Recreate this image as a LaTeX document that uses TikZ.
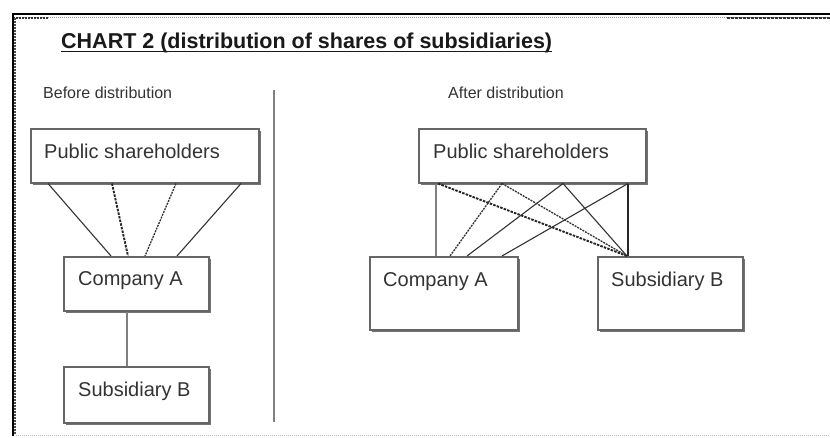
\documentclass[tikz,border=0pt]{standalone}
\usepackage{fontspec}
\setmainfont{Liberation Sans}
\usetikzlibrary{calc,shadows}
\begin{document}
\begin{tikzpicture}[x=1pt,y=-1pt,
  boxnode/.style={draw=black!60, line width=1.5pt, fill=white, rectangle, inner sep=0pt, anchor=north west,
    drop shadow={shadow xshift=2pt, shadow yshift=-2pt, fill=black!55, opacity=1}},
  boxtext/.style={anchor=base west, inner sep=0pt, font=\fontsize{20}{24}\selectfont, text=black!80},
  headtext/.style={anchor=base west, inner sep=0pt, font=\fontsize{16}{19}\selectfont, text=black!80},
  titletext/.style={anchor=base west, inner sep=0pt, font=\fontsize{21.5}{25}\selectfont\bfseries, text=black!90},
  thinlink/.style={draw=black!80, line width=1.1pt},
  dashlink/.style={draw=black!85, line width=1.9pt, dash pattern=on 2.5pt off 1.2pt},
  finedash/.style={draw=black!80, line width=1.3pt, dash pattern=on 2pt off 1pt},
  graybar/.style={draw=black!50, line width=2pt},
  darkbar/.style={draw=black!85, line width=2.2pt},
]
\useasboundingbox (0,0) rectangle (830,437);
\fill[white] (0,0) rectangle (830,437);

% frame
\draw[black, line width=2.2pt] (12,14) -- (830,14);
\draw[black!40, line width=0.8pt, dash pattern=on 1pt off 1pt] (16,17.5) -- (830,17.5);
\draw[black!80, line width=2pt, dash pattern=on 2pt off 1pt] (13,17.5) -- (48,17.5);
\draw[black!80, line width=2pt, dash pattern=on 3pt off 1pt] (727,17.5) -- (830,17.5);
\draw[black, line width=2pt] (12.5,13) -- (12.5,436);
\draw[black!70, line width=2.5pt, dash pattern=on 2pt off 1pt] (15.2,18) -- (15.2,434);
\draw[black!25, line width=0.8pt, dash pattern=on 1pt off 1pt] (16,435.5) -- (830,435.5);

% title
\node[titletext] (title) at (61,48) {CHART 2 (distribution of shares of subsidiaries)};
\draw[black!90, line width=1.8pt] ($(title.base west)+(0,3.5)$) -- ($(title.base east)+(0,3.5)$);

% headings
\node[headtext] (before) at (43,98) {Before distribution};
\node[headtext] (after) at (448,98) {After distribution};

% separator
\coordinate (septop) at (274,90);
\coordinate (sepbot) at (274,422);
\draw[graybar] (septop) -- (sepbot);

% left boxes
\node[boxnode, minimum width=228pt, minimum height=54pt] (ps1) at (30,128) {};
\node[boxnode, minimum width=145pt, minimum height=54pt] (ca1) at (63,256) {};
\node[boxnode, minimum width=145pt, minimum height=56pt] (sb1) at (63,366) {};
\node[boxtext] (ps1t) at ($(ps1.north west)+(14,30)$) {Public shareholders};
\node[boxtext] (ca1t) at ($(ca1.north west)+(15,29)$) {Company A};
\node[boxtext] (sb1t) at ($(sb1.north west)+(15,30)$) {Subsidiary B};

% left connectors
\draw[thinlink] ($(ps1.south west)+(18,0)$) -- ($(ca1.north west)+(48,0)$);
\draw[dashlink] ($(ps1.south west)+(82,0)$) -- ($(ca1.north west)+(65,0)$);
\draw[finedash] ($(ps1.south west)+(146,0)$) -- ($(ca1.north west)+(82,0)$);
\draw[thinlink] ($(ps1.south west)+(211,0)$) -- ($(ca1.north west)+(114,0)$);
\draw[graybar] ($(ca1.south west)+(64,0)$) -- ($(sb1.north west)+(64,0)$);

% right boxes
\node[boxnode, minimum width=227pt, minimum height=54pt] (ps2) at (418,128) {};
\node[boxnode, minimum width=148pt, minimum height=73pt] (ca2) at (369,256) {};
\node[boxnode, minimum width=145pt, minimum height=73pt] (sb2) at (597,256) {};
\node[boxtext] (ps2t) at ($(ps2.north west)+(15,30)$) {Public shareholders};
\node[boxtext] (ca2t) at ($(ca2.north west)+(14,30)$) {Company A};
\node[boxtext] (sb2t) at ($(sb2.north west)+(14,30)$) {Subsidiary B};

% right connectors
\draw[graybar] ($(ps2.south west)+(18,0)$) -- ($(ca2.north west)+(67,0)$);
\draw[dashlink] ($(ps2.south west)+(20,0)$) -- ($(sb2.north west)+(30,0)$);
\draw[finedash] ($(ps2.south west)+(84,0)$) -- ($(ca2.north west)+(81,0)$);
\draw[finedash] ($(ps2.south west)+(84,0)$) -- ($(sb2.north west)+(30,0)$);
\draw[thinlink] ($(ps2.south west)+(145,0)$) -- ($(ca2.north west)+(98,0)$);
\draw[thinlink] ($(ps2.south west)+(145,0)$) -- ($(sb2.north west)+(30,0)$);
\draw[darkbar] ($(ps2.south west)+(210,0)$) -- ($(sb2.north west)+(31,0)$);
\draw[thinlink] ($(ps2.south west)+(210,0)$) -- ($(ca2.north west)+(133,0)$);
\end{tikzpicture}
\end{document}
